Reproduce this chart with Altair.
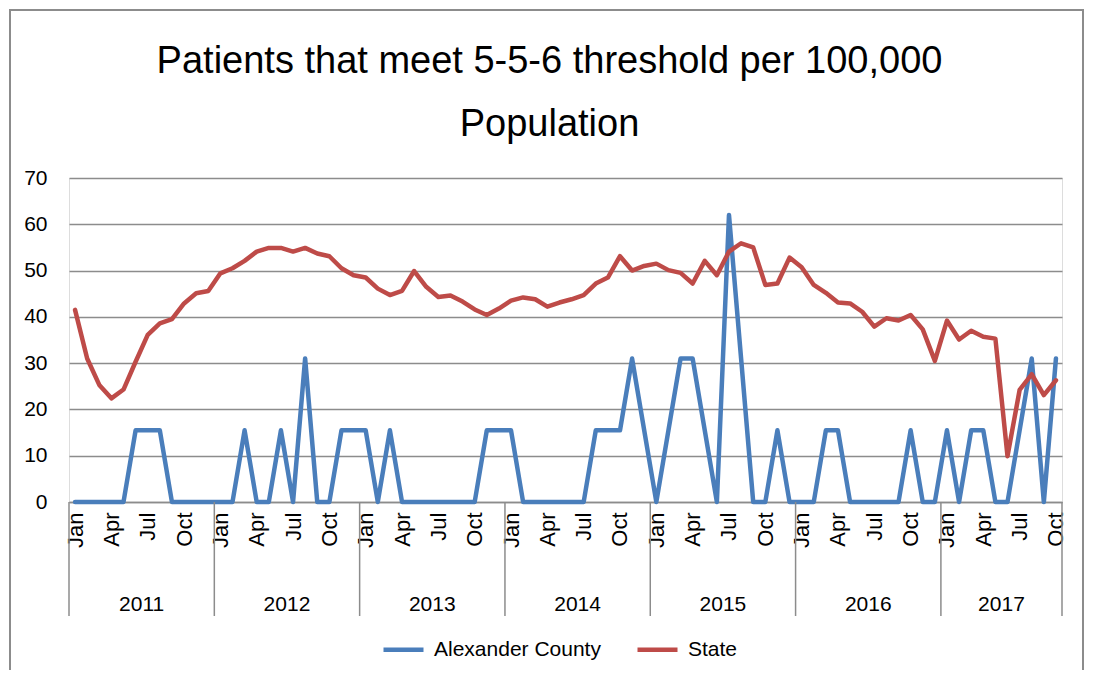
import altair as alt
import pandas as pd

# ---------------- data ----------------
month_names = ["Jan", "Feb", "Mar", "Apr", "May", "Jun",
               "Jul", "Aug", "Sep", "Oct", "Nov", "Dec"]
years = ["2011", "2012", "2013", "2014", "2015", "2016", "2017"]
months_in_year = [12, 12, 12, 12, 12, 12, 10]
series_names = ["Alexander County", "State"]

alexander = [
    0, 0, 0, 0, 0, 15.5, 15.5, 15.5, 0, 0, 0, 0,                 # 2011
    0, 0, 15.5, 0, 0, 15.5, 0, 31, 0, 0, 15.5, 15.5,             # 2012
    15.5, 0, 15.5, 0, 0, 0, 0, 0, 0, 0, 15.5, 15.5,              # 2013
    15.5, 0, 0, 0, 0, 0, 0, 15.5, 15.5, 15.5, 31, 15.5,          # 2014
    0, 15.5, 31, 31, 15.5, 0, 62, 31, 0, 0, 15.5, 0,             # 2015
    0, 0, 15.5, 15.5, 0, 0, 0, 0, 0, 15.5, 0, 0,                 # 2016
    15.5, 0, 15.5, 15.5, 0, 0, 15.5, 31, 0, 31,                  # 2017
]
state = [
    41.5, 31.0, 25.3, 22.4, 24.3, 30.3, 36.1, 38.6, 39.5, 42.9, 45.1, 45.6,   # 2011
    49.4, 50.5, 52.1, 54.1, 54.9, 54.9, 54.1, 54.9, 53.7, 53.1, 50.5, 49.0,   # 2012
    48.5, 46.1, 44.7, 45.6, 49.9, 46.5, 44.3, 44.6, 43.3, 41.6, 40.4, 41.8,   # 2013
    43.5, 44.2, 43.8, 42.2, 43.1, 43.8, 44.7, 47.2, 48.5, 53.1, 50.0, 51.0,   # 2014
    51.5, 50.1, 49.5, 47.2, 52.1, 49.0, 54.1, 55.9, 55.0, 46.9, 47.2, 52.8,   # 2015
    50.7, 46.9, 45.2, 43.1, 42.9, 41.1, 37.9, 39.7, 39.2, 40.4, 37.3, 30.5,   # 2016
    39.2, 35.1, 37.0, 35.7, 35.3, 9.9, 24.2, 27.6, 23.1, 26.3,               # 2017
]
y_ticks = [0, 10, 20, 30, 40, 50, 60, 70]
title_lines = ["Patients that meet 5-5-6 threshold per 100,000", "Population"]

# ---------------- tables ----------------
rows = []
idx = 0
for y, n in zip(years, months_in_year):
    for m in range(n):
        rows.append({"idx": idx, "year": y, "month": month_names[m],
                     "Alexander County": alexander[idx], "State": state[idx]})
        idx += 1
wide = pd.DataFrame(rows)
df = wide.melt(id_vars=["idx", "year", "month"], value_vars=series_names,
               var_name="series", value_name="value")
n_months = len(wide)

yr_rows = []
start = 0
for y, n in zip(years, months_in_year):
    yr_rows.append({"year": y, "start": start - 0.5, "end": start + n - 0.5,
                    "center": start + (n - 1) / 2})
    start += n
yr_df = pd.DataFrame(yr_rows)
sep_df = pd.DataFrame({"pos": [r["start"] for r in yr_rows] + [yr_rows[-1]["end"]]})

tick_idx = [i for i in range(n_months) if i % 3 == 0]
label_expr = "[" + ",".join("'%s'" % (m if i % 3 == 0 else "") for i, m in enumerate(month_names)) + "][datum.value % 12]"

# ---------------- layout constants ----------------
W, H = 993, 324
GRID = "#8c8c8c"
FONT = "Liberation Sans"
x_scale = alt.Scale(domain=[-0.5, n_months - 0.5], nice=False, zero=False)
y_scale = alt.Scale(domain=[0, 70], nice=False, zero=True)

x_axis = alt.Axis(values=tick_idx, labelExpr=label_expr, labelAngle=270,
                  labelAlign="right", labelBaseline="middle", labelPadding=10,
                  labelOverlap=False, labelFlush=False, labelBound=False,
                  ticks=False, grid=False,
                  domainColor=GRID, domainWidth=1.5, labelFont=FONT,
                  labelFontSize=22, labelColor="black", title=None)

lines = alt.Chart(df).mark_line(strokeWidth=4.5, strokeJoin="round", strokeCap="round").encode(
    x=alt.X("idx:Q", scale=x_scale, axis=x_axis),
    y=alt.Y("value:Q", scale=y_scale,
            axis=alt.Axis(values=y_ticks, grid=True, gridColor=GRID, gridWidth=1.5,
                          domain=False, ticks=False, labelPadding=22, labelFont=FONT,
                          labelFontSize=21, labelColor="black", title=None)),
    color=alt.Color("series:N",
                    scale=alt.Scale(domain=series_names, range=["#4A7EBB", "#BE4B48"]),
                    legend=alt.Legend(title=None, orient="none", legendX=312, legendY=449,
                                      direction="horizontal", symbolType="stroke",
                                      symbolSize=1600, symbolStrokeWidth=4.5,
                                      labelFont=FONT, labelFontSize=21, labelColor="black",
                                      labelOffset=8, columnPadding=27, labelLimit=400)),
    order="idx:Q",
)

seps = alt.Chart(sep_df).mark_rule(color=GRID, strokeWidth=1.5).encode(
    x=alt.X("pos:Q", scale=x_scale, axis=x_axis),
    y=alt.value(H), y2=alt.value(H + 114),
)

year_text = alt.Chart(yr_df).mark_text(font=FONT, fontSize=21, color="black",
                                       baseline="alphabetic", align="center").encode(
    x=alt.X("center:Q", scale=x_scale, axis=x_axis),
    y=alt.value(H + 109),
    text="year:N",
)

border = alt.Chart(pd.DataFrame({"k": [0]})).mark_rect(
    fill="transparent", stroke=GRID, strokeWidth=2).encode(
    x=alt.value(-59), x2=alt.value(W + 21), y=alt.value(-168), y2=alt.value(H + 300),
)

chart = alt.layer(border, lines, seps, year_text).properties(
    width=W, height=H,
    title=alt.TitleParams(text=title_lines, font=FONT, fontSize=38,
                          fontWeight="normal", color="black", lineHeight=63,
                          anchor="middle", frame="group", offset=0, dx=-16, dy=135),
    autosize=alt.AutoSizeParams(type="none"),
    padding={"left": 61, "top": 170, "right": 23, "bottom": 168},
).configure_view(stroke=None).configure_axisX(labelOverlap=False).configure(background="white")

chart.save("out.html", embed_options={"renderer": "svg", "actions": False})
